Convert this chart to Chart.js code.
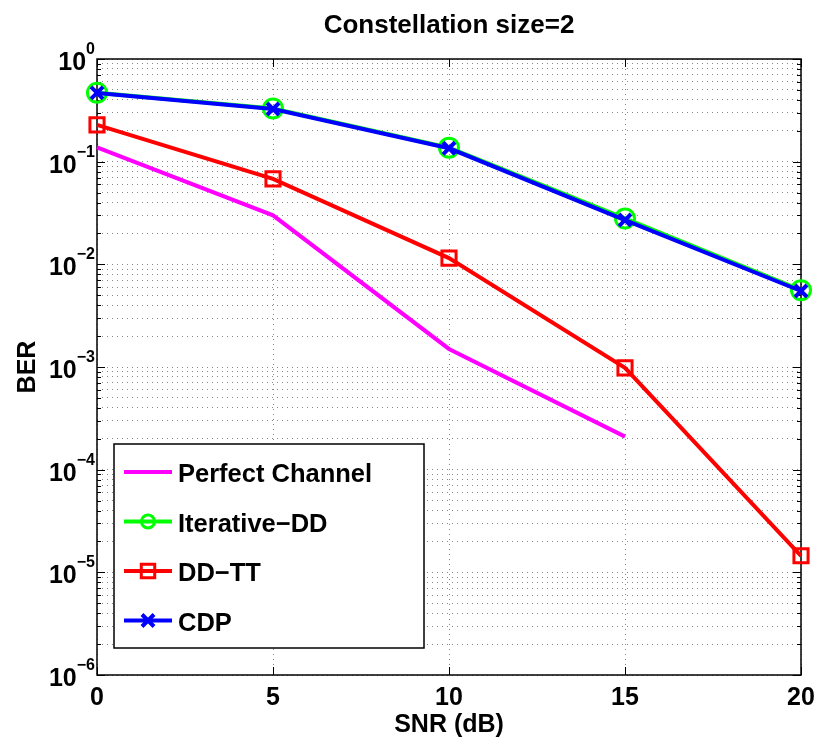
<!DOCTYPE html>
<html>
<head>
<meta charset="utf-8">
<script src="https://cdn.jsdelivr.net/npm/chart.js@4.4.0/dist/chart.umd.min.js"></script>
<style>
  html, body { margin: 0; padding: 0; background: #fff; }
  #wrap { width: 819px; height: 744px; }
</style>
</head>
<body>
<div id="wrap"><canvas id="berChart" width="819" height="744"></canvas></div>
<script>
// valori
const snrDb = [0, 5, 10, 15, 20];
const perfectChannel = [0.138, 0.030, 0.0015, 0.00021];
const iterativeDD = [0.47, 0.33, 0.137, 0.028, 0.0056];
const ddTT = [0.228, 0.068, 0.0115, 0.00098, 0.0000145];
const cdp = [0.467, 0.326, 0.135, 0.027, 0.0055];

const xTicks = [0, 5, 10, 15, 20];
const decades = [-6, -5, -4, -3, -2, -1, 0];
const mantissas = [1, 2, 3, 4, 5, 6, 7, 8, 9];

const FONT = "'Liberation Sans', Arial, sans-serif";

function toPoints(values) {
    return values.map((v, i) => ({ x: snrDb[i], y: v }));
}

// grila logaritmică: 1..9 × 10^n
const yGridValues = [];
decades.forEach(e => {
    if (e === 0) { yGridValues.push(1); return; }
    mantissas.forEach(m => yGridValues.push(m * Math.pow(10, e)));
});

const customDraw = {
    id: "customDraw",
    beforeDatasetsDraw(chart) {
        const ctx = chart.ctx;
        const a = chart.chartArea;
        const ys = chart.scales.y;
        const xs = chart.scales.x;
        ctx.save();
        // ticks interioare
        ctx.strokeStyle = "#000";
        ctx.lineWidth = 1;
        yGridValues.forEach(v => {
            const y = Math.round(ys.getPixelForValue(v)) + 0.5;
            const major = Math.abs(Math.log10(v) - Math.round(Math.log10(v))) < 1e-9;
            const len = major ? 8 : 4;
            ctx.beginPath();
            ctx.moveTo(a.left, y); ctx.lineTo(a.left + len, y);
            ctx.moveTo(a.right, y); ctx.lineTo(a.right - len, y);
            ctx.stroke();
        });
        xTicks.forEach(v => {
            const x = Math.round(xs.getPixelForValue(v)) + 0.5;
            ctx.beginPath();
            ctx.moveTo(x, a.bottom); ctx.lineTo(x, a.bottom - 8);
            ctx.moveTo(x, a.top); ctx.lineTo(x, a.top + 8);
            ctx.stroke();
        });
        // cadrul
        ctx.lineWidth = 1.5;
        ctx.strokeRect(a.left, a.top, a.right - a.left, a.bottom - a.top);
        ctx.restore();
    },
    afterDraw(chart) {
        const ctx = chart.ctx;
        const a = chart.chartArea;
        const ys = chart.scales.y;
        ctx.save();
        ctx.fillStyle = "#000";

        // etichete axa Y: 10^n
        decades.forEach(e => {
            const y = ys.getPixelForValue(Math.pow(10, e));
            const sup = e === 0 ? "0" : "\u2212" + (-e);
            ctx.font = "bold 16px " + FONT;
            ctx.textAlign = "right";
            ctx.textBaseline = "alphabetic";
            const supW = ctx.measureText(sup).width;
            const right = a.left - 2;
            ctx.fillText(sup, right, y - 5);
            ctx.font = "bold 25px " + FONT;
            ctx.fillText("10", right - supW, y + 11);
        });

        // titlu
        ctx.textAlign = "center";
        ctx.font = "bold 26px " + FONT;
        ctx.fillText("Constellation size=2", (a.left + a.right) / 2, 33);

        // titlu axa X
        ctx.font = "bold 25px " + FONT;
        ctx.fillText("SNR (dB)", (a.left + a.right) / 2, 732);

        // titlu axa Y
        ctx.save();
        ctx.translate(35, 367);
        ctx.rotate(-Math.PI / 2);
        ctx.fillText("BER", 0, 0);
        ctx.restore();

        // legenda
        const box = { x: 114, y: 444, w: 310, h: 204 };
        ctx.fillStyle = "#fff";
        ctx.fillRect(box.x, box.y, box.w, box.h);
        ctx.strokeStyle = "#000";
        ctx.lineWidth = 1.5;
        ctx.strokeRect(box.x, box.y, box.w, box.h);

        chart.data.datasets.forEach((ds, row) => {
            const cy = 472 + row * 49.5;
            ctx.strokeStyle = ds.borderColor;
            ctx.lineWidth = 4;
            ctx.beginPath();
            ctx.moveTo(124, cy); ctx.lineTo(172, cy);
            ctx.stroke();
            if (ds.pointStyle && ds.pointRadius > 0) {
                ctx.fillStyle = "rgba(0,0,0,0)";
                ctx.lineWidth = ds.pointBorderWidth;
                Chart.helpers.drawPoint(ctx, {
                    pointStyle: ds.pointStyle,
                    rotation: 0,
                    radius: ds.legendRadius,
                    borderWidth: ds.pointBorderWidth
                }, 148, cy);
            }
            ctx.fillStyle = "#000";
            ctx.textAlign = "left";
            ctx.font = "bold 25.5px " + FONT;
            ctx.fillText(ds.label, 178, cy + 10);
        });
        ctx.restore();
    }
};

const ctx = document.getElementById("berChart").getContext("2d");
const berChart = new Chart(ctx, {
    type: "line",
    data: {
        datasets: [
            {
                label: "Perfect Channel",
                data: toPoints(perfectChannel),
                borderColor: "#ff00ff",
                borderWidth: 4,
                pointRadius: 0,
                pointStyle: false,
                order: 3,
                clip: false
            },
            {
                label: "Iterative\u2212DD",
                data: toPoints(iterativeDD),
                borderColor: "#00ff00",
                backgroundColor: "rgba(0,0,0,0)",
                borderWidth: 4,
                pointStyle: "circle",
                pointRadius: 9.5,
                legendRadius: 6.5,
                pointBorderWidth: 3,
                pointBackgroundColor: "rgba(0,0,0,0)",
                pointBorderColor: "#00ff00",
                order: 2,
                clip: false
            },
            {
                label: "DD\u2212TT",
                data: toPoints(ddTT),
                borderColor: "#ff0000",
                backgroundColor: "rgba(0,0,0,0)",
                borderWidth: 4,
                pointStyle: "rect",
                pointRadius: 10,
                legendRadius: 9.5,
                pointBorderWidth: 3,
                pointBackgroundColor: "rgba(0,0,0,0)",
                pointBorderColor: "#ff0000",
                order: 1,
                clip: false
            },
            {
                label: "CDP",
                data: toPoints(cdp),
                borderColor: "#0000ff",
                backgroundColor: "rgba(0,0,0,0)",
                borderWidth: 4,
                pointStyle: "crossRot",
                pointRadius: 8.5,
                legendRadius: 8.5,
                pointBorderWidth: 4,
                pointBorderColor: "#0000ff",
                order: 0,
                clip: false
            }
        ]
    },
    options: {
        responsive: false,
        animation: false,
        layout: { padding: { top: 59, right: 18, left: 0, bottom: 0 } },
        plugins: {
            legend: { display: false },
            title: { display: false },
            tooltip: { enabled: false }
        },
        scales: {
            x: {
                type: "linear",
                min: 0,
                max: 20,
                afterBuildTicks: scale => { scale.ticks = xTicks.map(v => ({ value: v })); },
                afterFit: scale => {
                    scale.height = 69;
                    scale.paddingLeft = 0;
                    scale.paddingRight = 0;
                },
                ticks: {
                    color: "#000",
                    padding: 8,
                    font: { family: FONT, size: 25, weight: "bold" }
                },
                grid: { color: "#888", lineWidth: 1, drawTicks: false },
                border: { display: false, dash: [1, 4] }
            },
            y: {
                type: "logarithmic",
                min: 1e-6,
                max: 1,
                afterBuildTicks: scale => { scale.ticks = yGridValues.map(v => ({ value: v })); },
                afterFit: scale => { scale.width = 97; },
                ticks: { display: false },
                grid: { color: "#888", lineWidth: 1, drawTicks: false },
                border: { display: false, dash: [1, 4] }
            }
        }
    },
    plugins: [customDraw]
});
</script>
</body>
</html>
